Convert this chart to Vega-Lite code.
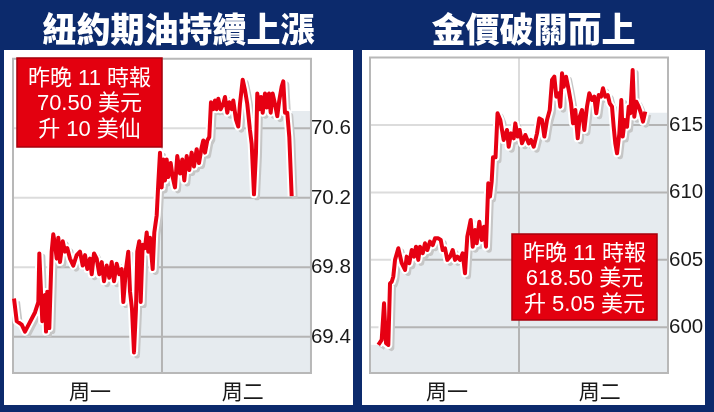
{
  "$schema": "https://vega.github.io/schema/vega-lite/v6.json",
  "background": "#0c2a6c",
  "padding": {"left": 4, "top": 15, "right": 9, "bottom": 7},
  "spacing": 9,
  "config": {
    "view": {"stroke": null, "fill": "white"},
    "title": {"color": "white", "fontSize": 34, "font": "Noto Sans CJK TC", "fontWeight": 900, "anchor": "middle", "frame": "group", "offset": 1}
  },
  "datasets": {
    "oil": [
      {"hour": 0, "price": 69.62, "part": "edge"},
      {"hour": 0.16, "price": 69.62, "part": "line"},
      {"hour": 0.60, "price": 69.49, "part": "line"},
      {"hour": 1.40, "price": 69.47, "part": "line"},
      {"hour": 1.93, "price": 69.43, "part": "line"},
      {"hour": 3.54, "price": 69.54, "part": "line"},
      {"hour": 4.08, "price": 69.60, "part": "line"},
      {"hour": 4.24, "price": 69.88, "part": "line"},
      {"hour": 4.72, "price": 69.49, "part": "line"},
      {"hour": 5.15, "price": 69.64, "part": "line"},
      {"hour": 5.32, "price": 69.43, "part": "line"},
      {"hour": 5.52, "price": 69.66, "part": "line"},
      {"hour": 5.85, "price": 69.45, "part": "line"},
      {"hour": 6.23, "price": 69.89, "part": "line"},
      {"hour": 6.49, "price": 69.99, "part": "line"},
      {"hour": 6.77, "price": 69.93, "part": "line"},
      {"hour": 7.04, "price": 69.85, "part": "line"},
      {"hour": 7.30, "price": 69.97, "part": "line"},
      {"hour": 7.57, "price": 69.83, "part": "line"},
      {"hour": 8.01, "price": 69.95, "part": "line"},
      {"hour": 8.38, "price": 69.89, "part": "line"},
      {"hour": 8.75, "price": 69.91, "part": "line"},
      {"hour": 9.18, "price": 69.85, "part": "line"},
      {"hour": 9.71, "price": 69.81, "part": "line"},
      {"hour": 10.26, "price": 69.87, "part": "line"},
      {"hour": 10.79, "price": 69.89, "part": "line"},
      {"hour": 11.23, "price": 69.81, "part": "line"},
      {"hour": 11.60, "price": 69.87, "part": "line"},
      {"hour": 11.97, "price": 69.79, "part": "line"},
      {"hour": 12.40, "price": 69.85, "part": "line"},
      {"hour": 12.68, "price": 69.76, "part": "line"},
      {"hour": 13.05, "price": 69.88, "part": "line"},
      {"hour": 13.48, "price": 69.85, "part": "line"},
      {"hour": 13.90, "price": 69.76, "part": "line"},
      {"hour": 14.29, "price": 69.83, "part": "line"},
      {"hour": 14.66, "price": 69.72, "part": "line"},
      {"hour": 15.09, "price": 69.81, "part": "line"},
      {"hour": 15.51, "price": 69.74, "part": "line"},
      {"hour": 15.90, "price": 69.83, "part": "line"},
      {"hour": 16.27, "price": 69.72, "part": "line"},
      {"hour": 16.70, "price": 69.82, "part": "line"},
      {"hour": 17.12, "price": 69.76, "part": "line"},
      {"hour": 17.51, "price": 69.79, "part": "line"},
      {"hour": 17.77, "price": 69.60, "part": "line"},
      {"hour": 18.20, "price": 69.79, "part": "line"},
      {"hour": 18.57, "price": 69.89, "part": "line"},
      {"hour": 18.85, "price": 69.66, "part": "line"},
      {"hour": 19.17, "price": 69.56, "part": "line"},
      {"hour": 19.49, "price": 69.31, "part": "line"},
      {"hour": 19.81, "price": 69.56, "part": "line"},
      {"hour": 20.02, "price": 69.89, "part": "line"},
      {"hour": 20.34, "price": 69.95, "part": "line"},
      {"hour": 20.57, "price": 69.60, "part": "line"},
      {"hour": 20.89, "price": 69.93, "part": "line"},
      {"hour": 21.26, "price": 69.91, "part": "line"},
      {"hour": 21.54, "price": 70.00, "part": "line"},
      {"hour": 21.79, "price": 69.89, "part": "line"},
      {"hour": 22.07, "price": 69.97, "part": "line"},
      {"hour": 22.50, "price": 69.79, "part": "line"},
      {"hour": 22.76, "price": 70.00, "part": "line"},
      {"hour": 23.15, "price": 70.10, "part": "line"},
      {"hour": 23.40, "price": 70.28, "part": "line"},
      {"hour": 23.68, "price": 70.46, "part": "line"},
      {"hour": 23.95, "price": 70.26, "part": "line"},
      {"hour": 24.21, "price": 70.42, "part": "line"},
      {"hour": 24.48, "price": 70.30, "part": "line"},
      {"hour": 24.76, "price": 70.42, "part": "line"},
      {"hour": 25.01, "price": 70.32, "part": "line"},
      {"hour": 25.40, "price": 70.40, "part": "line"},
      {"hour": 25.72, "price": 70.32, "part": "line"},
      {"hour": 26.09, "price": 70.26, "part": "line"},
      {"hour": 26.46, "price": 70.44, "part": "line"},
      {"hour": 26.90, "price": 70.34, "part": "line"},
      {"hour": 27.27, "price": 70.42, "part": "line"},
      {"hour": 27.59, "price": 70.30, "part": "line"},
      {"hour": 27.98, "price": 70.44, "part": "line"},
      {"hour": 28.40, "price": 70.36, "part": "line"},
      {"hour": 28.78, "price": 70.46, "part": "line"},
      {"hour": 29.15, "price": 70.38, "part": "line"},
      {"hour": 29.59, "price": 70.48, "part": "line"},
      {"hour": 29.96, "price": 70.40, "part": "line"},
      {"hour": 30.39, "price": 70.49, "part": "line"},
      {"hour": 30.65, "price": 70.53, "part": "line"},
      {"hour": 30.93, "price": 70.46, "part": "line"},
      {"hour": 31.30, "price": 70.53, "part": "line"},
      {"hour": 31.62, "price": 70.55, "part": "line"},
      {"hour": 31.89, "price": 70.75, "part": "line"},
      {"hour": 32.26, "price": 70.71, "part": "line"},
      {"hour": 32.54, "price": 70.76, "part": "line"},
      {"hour": 32.81, "price": 70.71, "part": "line"},
      {"hour": 33.07, "price": 70.77, "part": "line"},
      {"hour": 33.46, "price": 70.71, "part": "line"},
      {"hour": 33.87, "price": 70.74, "part": "line"},
      {"hour": 34.15, "price": 70.78, "part": "line"},
      {"hour": 34.52, "price": 70.69, "part": "line"},
      {"hour": 34.84, "price": 70.75, "part": "line"},
      {"hour": 35.23, "price": 70.71, "part": "line"},
      {"hour": 35.48, "price": 70.76, "part": "line"},
      {"hour": 35.92, "price": 70.65, "part": "line"},
      {"hour": 36.29, "price": 70.61, "part": "line"},
      {"hour": 36.56, "price": 70.74, "part": "line"},
      {"hour": 37.00, "price": 70.88, "part": "line"},
      {"hour": 37.37, "price": 70.82, "part": "line"},
      {"hour": 37.74, "price": 70.74, "part": "line"},
      {"hour": 38.17, "price": 70.59, "part": "line"},
      {"hour": 38.45, "price": 70.51, "part": "line"},
      {"hour": 38.82, "price": 70.22, "part": "line"},
      {"hour": 39.14, "price": 70.46, "part": "line"},
      {"hour": 39.35, "price": 70.80, "part": "line"},
      {"hour": 39.67, "price": 70.71, "part": "line"},
      {"hour": 39.95, "price": 70.78, "part": "line"},
      {"hour": 40.22, "price": 70.69, "part": "line"},
      {"hour": 40.59, "price": 70.80, "part": "line"},
      {"hour": 40.86, "price": 70.72, "part": "line"},
      {"hour": 41.24, "price": 70.80, "part": "line"},
      {"hour": 41.51, "price": 70.69, "part": "line"},
      {"hour": 41.83, "price": 70.80, "part": "line"},
      {"hour": 42.20, "price": 70.74, "part": "line"},
      {"hour": 42.57, "price": 70.67, "part": "line"},
      {"hour": 42.89, "price": 70.76, "part": "line"},
      {"hour": 43.28, "price": 70.84, "part": "line"},
      {"hour": 43.54, "price": 70.87, "part": "line"},
      {"hour": 43.81, "price": 70.69, "part": "line"},
      {"hour": 44.18, "price": 70.69, "part": "line"},
      {"hour": 44.51, "price": 70.55, "part": "line"},
      {"hour": 44.89, "price": 70.21, "part": "line"},
      {"hour": 44.90, "price": 70.70, "part": "edge"},
      {"hour": 48, "price": 70.70, "part": "edge"}
    ],
    "gold": [
      {"hour": 0, "price": 598.7, "part": "edge"},
      {"hour": 1.34, "price": 598.69, "part": "line"},
      {"hour": 1.88, "price": 599.06, "part": "line"},
      {"hour": 2.26, "price": 601.78, "part": "line"},
      {"hour": 2.58, "price": 598.82, "part": "line"},
      {"hour": 2.95, "price": 598.69, "part": "line"},
      {"hour": 3.22, "price": 603.26, "part": "line"},
      {"hour": 3.50, "price": 603.38, "part": "line"},
      {"hour": 3.75, "price": 603.75, "part": "line"},
      {"hour": 4.03, "price": 605.0, "part": "line"},
      {"hour": 4.56, "price": 605.86, "part": "line"},
      {"hour": 5.11, "price": 604.75, "part": "line"},
      {"hour": 5.64, "price": 604.25, "part": "line"},
      {"hour": 5.91, "price": 605.24, "part": "line"},
      {"hour": 6.33, "price": 604.75, "part": "line"},
      {"hour": 6.72, "price": 605.73, "part": "line"},
      {"hour": 7.09, "price": 605.24, "part": "line"},
      {"hour": 7.41, "price": 605.98, "part": "line"},
      {"hour": 7.78, "price": 605.0, "part": "line"},
      {"hour": 8.05, "price": 605.98, "part": "line"},
      {"hour": 8.49, "price": 605.49, "part": "line"},
      {"hour": 8.86, "price": 606.23, "part": "line"},
      {"hour": 9.23, "price": 605.73, "part": "line"},
      {"hour": 9.66, "price": 606.35, "part": "line"},
      {"hour": 10.10, "price": 606.10, "part": "line"},
      {"hour": 10.47, "price": 606.60, "part": "line"},
      {"hour": 11.00, "price": 606.60, "part": "line"},
      {"hour": 11.39, "price": 606.48, "part": "line"},
      {"hour": 11.71, "price": 605.73, "part": "line"},
      {"hour": 12.08, "price": 605.86, "part": "line"},
      {"hour": 12.45, "price": 605.0, "part": "line"},
      {"hour": 12.89, "price": 605.24, "part": "line"},
      {"hour": 13.32, "price": 605.73, "part": "line"},
      {"hour": 13.69, "price": 605.0, "part": "line"},
      {"hour": 14.06, "price": 605.24, "part": "line"},
      {"hour": 14.50, "price": 605.0, "part": "line"},
      {"hour": 14.93, "price": 605.49, "part": "line"},
      {"hour": 15.30, "price": 604.0, "part": "line"},
      {"hour": 15.67, "price": 606.72, "part": "line"},
      {"hour": 16.00, "price": 607.46, "part": "line"},
      {"hour": 16.22, "price": 607.96, "part": "line"},
      {"hour": 16.54, "price": 605.98, "part": "line"},
      {"hour": 16.91, "price": 607.22, "part": "line"},
      {"hour": 17.19, "price": 606.23, "part": "line"},
      {"hour": 17.61, "price": 607.83, "part": "line"},
      {"hour": 17.99, "price": 606.48, "part": "line"},
      {"hour": 18.36, "price": 607.46, "part": "line"},
      {"hour": 18.68, "price": 605.98, "part": "line"},
      {"hour": 19.05, "price": 610.68, "part": "line"},
      {"hour": 19.33, "price": 609.69, "part": "line"},
      {"hour": 19.60, "price": 610.80, "part": "line"},
      {"hour": 19.81, "price": 612.6, "part": "line"},
      {"hour": 20.22, "price": 612.6, "part": "line"},
      {"hour": 20.54, "price": 615.87, "part": "line"},
      {"hour": 20.99, "price": 615.37, "part": "line"},
      {"hour": 21.53, "price": 613.89, "part": "line"},
      {"hour": 22.07, "price": 614.63, "part": "line"},
      {"hour": 22.34, "price": 613.39, "part": "line"},
      {"hour": 22.71, "price": 614.38, "part": "line"},
      {"hour": 23.15, "price": 614.01, "part": "line"},
      {"hour": 23.40, "price": 615.12, "part": "line"},
      {"hour": 23.79, "price": 614.14, "part": "line"},
      {"hour": 24.11, "price": 614.63, "part": "line"},
      {"hour": 24.48, "price": 613.64, "part": "line"},
      {"hour": 25.02, "price": 614.26, "part": "line"},
      {"hour": 25.56, "price": 613.64, "part": "line"},
      {"hour": 25.93, "price": 613.89, "part": "line"},
      {"hour": 26.37, "price": 613.39, "part": "line"},
      {"hour": 26.90, "price": 614.38, "part": "line"},
      {"hour": 27.27, "price": 615.49, "part": "line"},
      {"hour": 27.70, "price": 615.37, "part": "line"},
      {"hour": 28.08, "price": 614.14, "part": "line"},
      {"hour": 28.51, "price": 615.37, "part": "line"},
      {"hour": 28.95, "price": 616.11, "part": "line"},
      {"hour": 29.32, "price": 618.34, "part": "line"},
      {"hour": 29.69, "price": 618.58, "part": "line"},
      {"hour": 30.01, "price": 617.10, "part": "line"},
      {"hour": 30.40, "price": 617.35, "part": "line"},
      {"hour": 30.65, "price": 616.36, "part": "line"},
      {"hour": 30.93, "price": 618.83, "part": "line"},
      {"hour": 31.20, "price": 617.84, "part": "line"},
      {"hour": 31.57, "price": 618.58, "part": "line"},
      {"hour": 32.01, "price": 617.59, "part": "line"},
      {"hour": 32.38, "price": 616.61, "part": "line"},
      {"hour": 32.70, "price": 615.12, "part": "line"},
      {"hour": 33.07, "price": 616.11, "part": "line"},
      {"hour": 33.46, "price": 614.01, "part": "line"},
      {"hour": 33.78, "price": 615.62, "part": "line"},
      {"hour": 34.15, "price": 616.11, "part": "line"},
      {"hour": 34.52, "price": 614.63, "part": "line"},
      {"hour": 34.95, "price": 616.36, "part": "line"},
      {"hour": 35.32, "price": 617.35, "part": "line"},
      {"hour": 35.76, "price": 616.85, "part": "line"},
      {"hour": 36.13, "price": 617.10, "part": "line"},
      {"hour": 36.45, "price": 615.87, "part": "line"},
      {"hour": 36.84, "price": 617.22, "part": "line"},
      {"hour": 37.21, "price": 617.10, "part": "line"},
      {"hour": 37.53, "price": 617.72, "part": "line"},
      {"hour": 37.90, "price": 617.10, "part": "line"},
      {"hour": 38.29, "price": 617.22, "part": "line"},
      {"hour": 38.61, "price": 616.61, "part": "line"},
      {"hour": 38.98, "price": 616.36, "part": "line"},
      {"hour": 39.25, "price": 614.87, "part": "line"},
      {"hour": 39.51, "price": 613.64, "part": "line"},
      {"hour": 39.79, "price": 612.9, "part": "line"},
      {"hour": 40.16, "price": 614.38, "part": "line"},
      {"hour": 40.48, "price": 616.85, "part": "line"},
      {"hour": 40.71, "price": 614.14, "part": "line"},
      {"hour": 41.03, "price": 615.37, "part": "line"},
      {"hour": 41.40, "price": 614.87, "part": "line"},
      {"hour": 41.67, "price": 616.36, "part": "line"},
      {"hour": 41.93, "price": 615.87, "part": "line"},
      {"hour": 42.31, "price": 619.08, "part": "line"},
      {"hour": 42.57, "price": 615.62, "part": "line"},
      {"hour": 42.89, "price": 616.73, "part": "line"},
      {"hour": 43.28, "price": 616.36, "part": "line"},
      {"hour": 43.65, "price": 615.87, "part": "line"},
      {"hour": 43.97, "price": 615.25, "part": "line"},
      {"hour": 44.34, "price": 615.99, "part": "line"},
      {"hour": 44.35, "price": 615.9, "part": "edge"},
      {"hour": 48, "price": 615.9, "part": "edge"}
    ],
    "oilGrid": [{"price": 69.4}, {"price": 69.8}, {"price": 70.2}, {"price": 70.6}],
    "goldGrid": [{"price": 600}, {"price": 605}, {"price": 610}, {"price": 615}],
    "days": [{"day": "周一", "hour": 12.4}, {"day": "周二", "hour": 37}],
    "oilNote": [{"note": "昨晚 11 時報\n70.50 美元\n升 10 美仙"}],
    "goldNote": [{"note": "昨晚 11 時報\n618.50 美元\n升 5.05 美元"}],
    "one": [{}]
  },
  "hconcat": [
    {
      "width": 349,
      "height": 355,
      "title": {"text": "紐約期油持續上漲"},
      "layer": [
        {"data": {"name": "one"}, "mark": {"type": "rect", "fill": "#e6ebef"},
         "encoding": {
           "x": {"datum": 0, "type": "quantitative", "scale": {"domain": [-1.45, 54.77], "nice": false, "zero": false}, "axis": null},
           "x2": {"datum": 48},
           "y": {"datum": 69.192, "type": "quantitative", "scale": {"domain": [69.0075, 71.0507], "nice": false, "zero": false}, "axis": null},
           "y2": {"datum": 71.0}}},
        {"data": {"name": "oilGrid"}, "mark": {"type": "rule", "stroke": "#b4b4b4", "strokeWidth": 2},
         "encoding": {
           "x": {"datum": 0, "type": "quantitative", "scale": {"domain": [-1.45, 54.77], "nice": false, "zero": false}, "axis": null},
           "x2": {"datum": 48},
           "y": {"field": "price", "type": "quantitative", "scale": {"domain": [69.0075, 71.0507], "nice": false, "zero": false}, "axis": null}}},
        {"data": {"name": "one"}, "mark": {"type": "rule", "stroke": "#b4b4b4", "strokeWidth": 2},
         "encoding": {
           "x": {"datum": 24, "type": "quantitative", "scale": {"domain": [-1.45, 54.77], "nice": false, "zero": false}, "axis": null},
           "y": {"datum": 69.192, "type": "quantitative", "scale": {"domain": [69.0075, 71.0507], "nice": false, "zero": false}, "axis": null},
           "y2": {"datum": 71.0}}},
        {"data": {"name": "oil"}, "mark": {"type": "area", "fill": "white", "interpolate": "linear"},
         "encoding": {
           "x": {"field": "hour", "type": "quantitative", "scale": {"domain": [-1.45, 54.77], "nice": false, "zero": false}, "axis": null},
           "y": {"field": "price", "type": "quantitative", "scale": {"domain": [69.0075, 71.0507], "nice": false, "zero": false}, "axis": null},
           "y2": {"datum": 71.0}}},
        {"data": {"name": "oilGrid"}, "mark": {"type": "rule", "stroke": "#dcdcdc", "strokeWidth": 2, "blend": "darken"},
         "encoding": {
           "x": {"datum": 0, "type": "quantitative", "scale": {"domain": [-1.45, 54.77], "nice": false, "zero": false}, "axis": null},
           "x2": {"datum": 48},
           "y": {"field": "price", "type": "quantitative", "scale": {"domain": [69.0075, 71.0507], "nice": false, "zero": false}, "axis": null}}},
        {"data": {"name": "one"}, "mark": {"type": "rule", "stroke": "#dcdcdc", "strokeWidth": 2, "blend": "darken"},
         "encoding": {
           "x": {"datum": 24, "type": "quantitative", "scale": {"domain": [-1.45, 54.77], "nice": false, "zero": false}, "axis": null},
           "y": {"datum": 69.192, "type": "quantitative", "scale": {"domain": [69.0075, 71.0507], "nice": false, "zero": false}, "axis": null},
           "y2": {"datum": 71.0}}},
        {"data": {"name": "one"}, "mark": {"type": "rect", "filled": false, "stroke": "#b8b8b8", "strokeWidth": 2},
         "encoding": {
           "x": {"datum": 0, "type": "quantitative", "scale": {"domain": [-1.45, 54.77], "nice": false, "zero": false}, "axis": null},
           "x2": {"datum": 48},
           "y": {"datum": 69.192, "type": "quantitative", "scale": {"domain": [69.0075, 71.0507], "nice": false, "zero": false}, "axis": null},
           "y2": {"datum": 71.0}}},
        {"data": {"name": "oil"}, "transform": [{"filter": "datum.part == 'line'"}],
         "mark": {"type": "line", "stroke": "#c6c6c6", "strokeWidth": 6, "xOffset": 3, "yOffset": 3, "strokeJoin": "round"},
         "encoding": {
           "x": {"field": "hour", "type": "quantitative", "scale": {"domain": [-1.45, 54.77], "nice": false, "zero": false}, "axis": null},
           "y": {"field": "price", "type": "quantitative", "scale": {"domain": [69.0075, 71.0507], "nice": false, "zero": false}, "axis": null}}},
        {"data": {"name": "oil"}, "transform": [{"filter": "datum.part == 'line'"}],
         "mark": {"type": "line", "stroke": "white", "strokeWidth": 8, "strokeJoin": "round"},
         "encoding": {
           "x": {"field": "hour", "type": "quantitative", "scale": {"domain": [-1.45, 54.77], "nice": false, "zero": false}, "axis": null},
           "y": {"field": "price", "type": "quantitative", "scale": {"domain": [69.0075, 71.0507], "nice": false, "zero": false}, "axis": null}}},
        {"data": {"name": "oil"}, "transform": [{"filter": "datum.part == 'line'"}],
         "mark": {"type": "line", "stroke": "#e60012", "strokeWidth": 4, "strokeJoin": "round"},
         "encoding": {
           "x": {"field": "hour", "type": "quantitative", "scale": {"domain": [-1.45, 54.77], "nice": false, "zero": false}, "axis": null},
           "y": {"field": "price", "type": "quantitative", "scale": {"domain": [69.0075, 71.0507], "nice": false, "zero": false}, "axis": null}}},
        {"data": {"name": "oilGrid"}, "mark": {"type": "text", "align": "left", "baseline": "middle", "dx": 0, "font": "Liberation Sans", "fontSize": 20.5, "color": "#1a1a1a"},
         "encoding": {
           "x": {"datum": 48, "type": "quantitative", "scale": {"domain": [-1.45, 54.77], "nice": false, "zero": false}, "axis": null},
           "y": {"field": "price", "type": "quantitative", "scale": {"domain": [69.0075, 71.0507], "nice": false, "zero": false}, "axis": null},
           "text": {"field": "price", "type": "quantitative", "format": ".1f"}}},
        {"data": {"name": "days"}, "mark": {"type": "text", "align": "center", "baseline": "middle", "dy": 20, "font": "Noto Sans CJK TC", "fontSize": 21, "color": "#1a1a1a"},
         "encoding": {
           "x": {"field": "hour", "type": "quantitative", "scale": {"domain": [-1.45, 54.77], "nice": false, "zero": false}, "axis": null},
           "y": {"datum": 69.192, "type": "quantitative", "scale": {"domain": [69.0075, 71.0507], "nice": false, "zero": false}, "axis": null},
           "text": {"field": "day", "type": "nominal"}}},
        {"data": {"name": "one"}, "mark": {"type": "rect", "fill": "#e3000f", "stroke": "#a8000c", "strokeWidth": 1.5},
         "encoding": {
           "x": {"datum": 0.64, "type": "quantitative", "scale": {"domain": [-1.45, 54.77], "nice": false, "zero": false}, "axis": null},
           "x2": {"datum": 24.0},
           "y": {"datum": 70.492, "type": "quantitative", "scale": {"domain": [69.0075, 71.0507], "nice": false, "zero": false}, "axis": null},
           "y2": {"datum": 71.005}}},
        {"data": {"name": "oilNote"}, "mark": {"type": "text", "color": "white", "font": "Liberation Sans, Noto Sans CJK TC", "fontSize": 22, "lineHeight": 25.5, "lineBreak": "\n", "align": "center", "baseline": "middle"},
         "encoding": {
           "x": {"datum": 12.32, "type": "quantitative", "scale": {"domain": [-1.45, 54.77], "nice": false, "zero": false}, "axis": null},
           "y": {"datum": 70.89, "type": "quantitative", "scale": {"domain": [69.0075, 71.0507], "nice": false, "zero": false}, "axis": null},
           "text": {"field": "note", "type": "nominal"}}}
      ]
    },
    {
      "width": 343,
      "height": 355,
      "title": {"text": "金價破關而上"},
      "layer": [
        {"data": {"name": "one"}, "mark": {"type": "rect", "fill": "#e6ebef"},
         "encoding": {
           "x": {"datum": 0, "type": "quantitative", "scale": {"domain": [-1.29, 53.96], "nice": false, "zero": false}, "axis": null},
           "x2": {"datum": 48},
           "y": {"datum": 596.62, "type": "quantitative", "scale": {"domain": [594.24, 620.56], "nice": false, "zero": false}, "axis": null},
           "y2": {"datum": 620}}},
        {"data": {"name": "goldGrid"}, "mark": {"type": "rule", "stroke": "#b4b4b4", "strokeWidth": 2},
         "encoding": {
           "x": {"datum": 0, "type": "quantitative", "scale": {"domain": [-1.29, 53.96], "nice": false, "zero": false}, "axis": null},
           "x2": {"datum": 48},
           "y": {"field": "price", "type": "quantitative", "scale": {"domain": [594.24, 620.56], "nice": false, "zero": false}, "axis": null}}},
        {"data": {"name": "one"}, "mark": {"type": "rule", "stroke": "#b4b4b4", "strokeWidth": 2},
         "encoding": {
           "x": {"datum": 24, "type": "quantitative", "scale": {"domain": [-1.29, 53.96], "nice": false, "zero": false}, "axis": null},
           "y": {"datum": 596.62, "type": "quantitative", "scale": {"domain": [594.24, 620.56], "nice": false, "zero": false}, "axis": null},
           "y2": {"datum": 620}}},
        {"data": {"name": "gold"}, "mark": {"type": "area", "fill": "white", "interpolate": "linear"},
         "encoding": {
           "x": {"field": "hour", "type": "quantitative", "scale": {"domain": [-1.29, 53.96], "nice": false, "zero": false}, "axis": null},
           "y": {"field": "price", "type": "quantitative", "scale": {"domain": [594.24, 620.56], "nice": false, "zero": false}, "axis": null},
           "y2": {"datum": 620}}},
        {"data": {"name": "goldGrid"}, "mark": {"type": "rule", "stroke": "#dcdcdc", "strokeWidth": 2, "blend": "darken"},
         "encoding": {
           "x": {"datum": 0, "type": "quantitative", "scale": {"domain": [-1.29, 53.96], "nice": false, "zero": false}, "axis": null},
           "x2": {"datum": 48},
           "y": {"field": "price", "type": "quantitative", "scale": {"domain": [594.24, 620.56], "nice": false, "zero": false}, "axis": null}}},
        {"data": {"name": "one"}, "mark": {"type": "rule", "stroke": "#dcdcdc", "strokeWidth": 2, "blend": "darken"},
         "encoding": {
           "x": {"datum": 24, "type": "quantitative", "scale": {"domain": [-1.29, 53.96], "nice": false, "zero": false}, "axis": null},
           "y": {"datum": 596.62, "type": "quantitative", "scale": {"domain": [594.24, 620.56], "nice": false, "zero": false}, "axis": null},
           "y2": {"datum": 620}}},
        {"data": {"name": "one"}, "mark": {"type": "rect", "filled": false, "stroke": "#b8b8b8", "strokeWidth": 2},
         "encoding": {
           "x": {"datum": 0, "type": "quantitative", "scale": {"domain": [-1.29, 53.96], "nice": false, "zero": false}, "axis": null},
           "x2": {"datum": 48},
           "y": {"datum": 596.62, "type": "quantitative", "scale": {"domain": [594.24, 620.56], "nice": false, "zero": false}, "axis": null},
           "y2": {"datum": 620}}},
        {"data": {"name": "gold"}, "transform": [{"filter": "datum.part == 'line'"}],
         "mark": {"type": "line", "stroke": "#c6c6c6", "strokeWidth": 6, "xOffset": 3, "yOffset": 3, "strokeJoin": "round"},
         "encoding": {
           "x": {"field": "hour", "type": "quantitative", "scale": {"domain": [-1.29, 53.96], "nice": false, "zero": false}, "axis": null},
           "y": {"field": "price", "type": "quantitative", "scale": {"domain": [594.24, 620.56], "nice": false, "zero": false}, "axis": null}}},
        {"data": {"name": "gold"}, "transform": [{"filter": "datum.part == 'line'"}],
         "mark": {"type": "line", "stroke": "white", "strokeWidth": 8, "strokeJoin": "round"},
         "encoding": {
           "x": {"field": "hour", "type": "quantitative", "scale": {"domain": [-1.29, 53.96], "nice": false, "zero": false}, "axis": null},
           "y": {"field": "price", "type": "quantitative", "scale": {"domain": [594.24, 620.56], "nice": false, "zero": false}, "axis": null}}},
        {"data": {"name": "gold"}, "transform": [{"filter": "datum.part == 'line'"}],
         "mark": {"type": "line", "stroke": "#e60012", "strokeWidth": 4, "strokeJoin": "round"},
         "encoding": {
           "x": {"field": "hour", "type": "quantitative", "scale": {"domain": [-1.29, 53.96], "nice": false, "zero": false}, "axis": null},
           "y": {"field": "price", "type": "quantitative", "scale": {"domain": [594.24, 620.56], "nice": false, "zero": false}, "axis": null}}},
        {"data": {"name": "goldGrid"}, "mark": {"type": "text", "align": "left", "baseline": "middle", "dx": 1, "font": "Liberation Sans", "fontSize": 20.5, "color": "#1a1a1a"},
         "encoding": {
           "x": {"datum": 48, "type": "quantitative", "scale": {"domain": [-1.29, 53.96], "nice": false, "zero": false}, "axis": null},
           "y": {"field": "price", "type": "quantitative", "scale": {"domain": [594.24, 620.56], "nice": false, "zero": false}, "axis": null},
           "text": {"field": "price", "type": "quantitative", "format": "d"}}},
        {"data": {"name": "days"}, "mark": {"type": "text", "align": "center", "baseline": "middle", "dy": 20, "font": "Noto Sans CJK TC", "fontSize": 21, "color": "#1a1a1a"},
         "encoding": {
           "x": {"field": "hour", "type": "quantitative", "scale": {"domain": [-1.29, 53.96], "nice": false, "zero": false}, "axis": null},
           "y": {"datum": 596.62, "type": "quantitative", "scale": {"domain": [594.24, 620.56], "nice": false, "zero": false}, "axis": null},
           "text": {"field": "day", "type": "nominal"}}},
        {"data": {"name": "one"}, "mark": {"type": "rect", "fill": "#e3000f", "stroke": "#a8000c", "strokeWidth": 1.5},
         "encoding": {
           "x": {"datum": 22.87, "type": "quantitative", "scale": {"domain": [-1.29, 53.96], "nice": false, "zero": false}, "axis": null},
           "x2": {"datum": 46.23},
           "y": {"datum": 600.55, "type": "quantitative", "scale": {"domain": [594.24, 620.56], "nice": false, "zero": false}, "axis": null},
           "y2": {"datum": 606.92}}},
        {"data": {"name": "goldNote"}, "mark": {"type": "text", "color": "white", "font": "Liberation Sans, Noto Sans CJK TC", "fontSize": 22, "lineHeight": 25.5, "lineBreak": "\n", "align": "center", "baseline": "middle"},
         "encoding": {
           "x": {"datum": 34.55, "type": "quantitative", "scale": {"domain": [-1.29, 53.96], "nice": false, "zero": false}, "axis": null},
           "y": {"datum": 605.51, "type": "quantitative", "scale": {"domain": [594.24, 620.56], "nice": false, "zero": false}, "axis": null},
           "text": {"field": "note", "type": "nominal"}}}
      ]
    }
  ]
}
